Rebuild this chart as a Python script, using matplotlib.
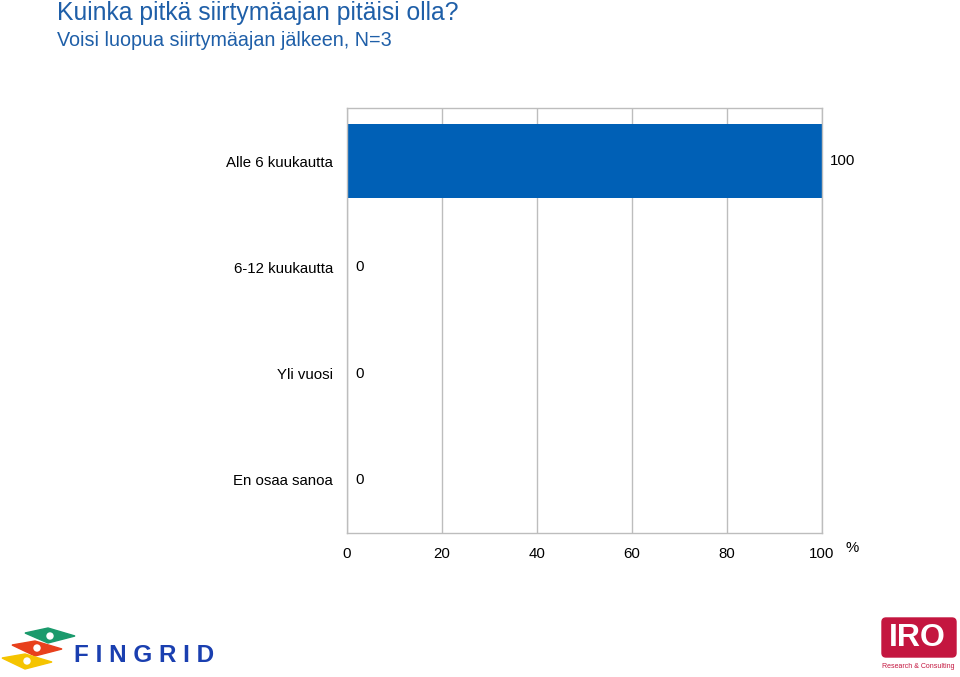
import numpy as np
import matplotlib.pyplot as plt
from matplotlib.patches import Polygon, FancyBboxPatch, Circle

plt.rcParams["font.family"] = ["Liberation Sans", "DejaVu Sans"]

categories = ["Alle 6 kuukautta", "6-12 kuukautta", "Yli vuosi", "En osaa sanoa"]
values = [100, 0, 0, 0]
xticks = [0, 20, 40, 60, 80, 100]

title = "Kuinka pitkä siirtymäajan pitäisi olla?"
subtitle = "Voisi luopua siirtymäajan jälkeen, N=3"

bar_color = "#0060b6"
grid_color = "#bdbdbd"
title_color = "#1f5fa8"

fig = plt.figure(figsize=(9.6, 6.77), dpi=100)
ax = fig.add_axes([0.3615, 0.2127, 0.4948, 0.6278])

y = np.arange(len(categories))
ax.barh(y, values, height=0.7, color=bar_color, zorder=2)
ax.set_ylim(len(categories) - 0.5, -0.5)
ax.set_xlim(0, 100)
ax.set_yticks(y, categories)
ax.set_xticks(xticks, [str(t) for t in xticks])
ax.tick_params(axis="both", length=0, labelsize=10.8, colors="black")
ax.tick_params(axis="y", pad=10)
ax.tick_params(axis="x", pad=10)
ax.grid(axis="x", color=grid_color, linewidth=1.0, zorder=0)
for s in ax.spines.values():
    s.set_color(grid_color)
    s.set_linewidth(1.0)

for yi, v in zip(y, values):
    ax.text(v + 1.7, yi, f"{v}", va="center", ha="left", fontsize=10.8)

fig.text(846 / 960, 1 - 548 / 677, "%", fontsize=10.8, ha="left", va="center")

fig.text(57 / 960, 1 - 13 / 677, title, fontsize=17.8, color=title_color,
         ha="left", va="center")
fig.text(57 / 960, 1 - 41 / 677, subtitle, fontsize=14.2, color=title_color,
         ha="left", va="center")

# simple logo sketches
lg = fig.add_axes([0, 0, 1, 1], zorder=-1)
lg.set_xlim(0, 960)
lg.set_ylim(677, 0)
lg.axis("off")
for pts, col, c in [
    ([(25, 633), (48, 628), (75, 636), (48, 643)], "#1a9a6c", (50, 636)),
    ([(12, 645), (35, 641), (62, 649), (35, 656)], "#e8401c", (37, 648)),
    ([(2, 658), (25, 654), (52, 662), (25, 669)], "#f5c400", (27, 661)),
]:
    lg.add_patch(Polygon(pts, closed=True, color=col))
    lg.add_patch(Circle(c, 3, color="white"))
lg.text(74, 656, "F I N G R I D", fontsize=17.5, fontweight="bold",
        color="#1a3fb0", ha="left", va="center")
lg.add_patch(FancyBboxPatch((882, 618), 74, 39, boxstyle="round,pad=0,rounding_size=4",
                            color="#c4163f"))
lg.text(917, 638, "IRO", fontsize=23, fontweight="bold", color="white",
        ha="center", va="center")
lg.text(918, 667, "Research & Consulting", fontsize=5, color="#c4163f",
        ha="center", va="center")

fig.savefig("out.png", dpi=100)
